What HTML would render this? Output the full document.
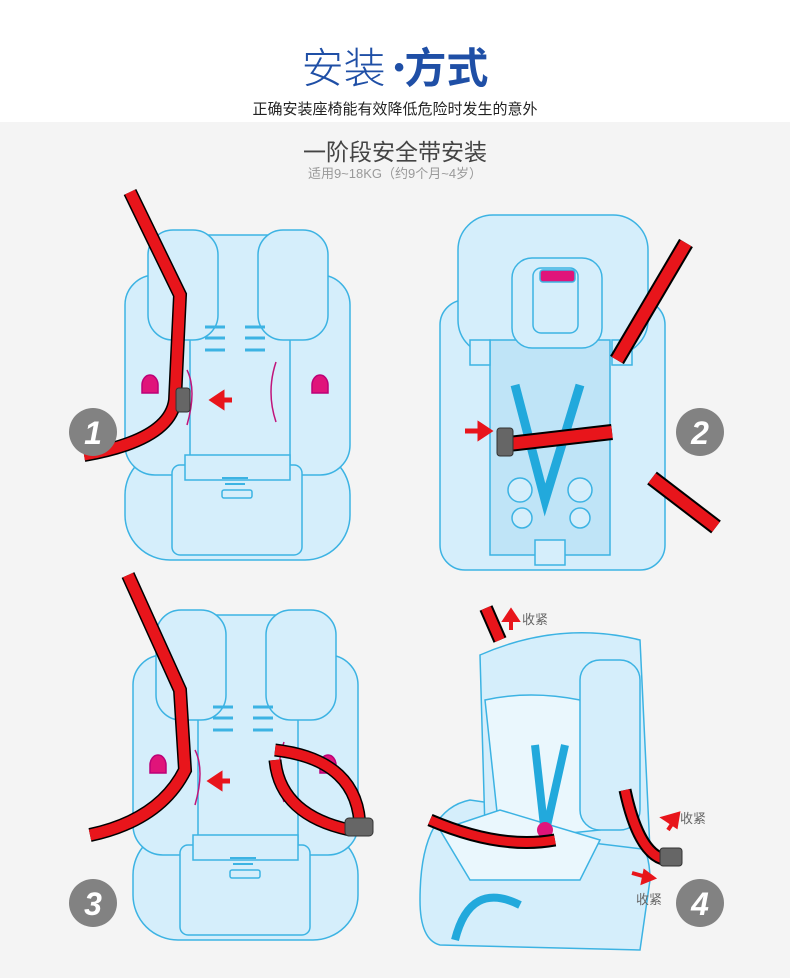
<!DOCTYPE html><html><head><meta charset="utf-8"><style>
body{margin:0;width:790px;height:978px;overflow:hidden;background:#f4f4f4;font-family:"Liberation Sans","Noto Sans CJK SC",sans-serif}
.top{position:absolute;left:0;top:0;width:790px;height:122px;background:#fff}
.t{position:absolute;left:0;width:790px;text-align:center}
</style></head><body>
<div class="top"></div>
<div class="t" style="top:40px;font-size:42px;color:#1f4fa6;line-height:56px"><span style="font-weight:300">安装</span><span style="font-weight:bold;font-size:30px;vertical-align:6px"> •</span><span style="font-weight:bold">方式</span></div>
<div class="t" style="top:98px;font-size:15px;color:#222">正确安装座椅能有效降低危险时发生的意外</div>
<div class="t" style="top:133px;font-size:23px;color:#444">一阶段安全带安装</div>
<div class="t" style="top:163px;font-size:13px;color:#999">适用9~18KG（约9个月~4岁）</div>
<svg width="790" height="978" style="position:absolute;left:0;top:0">
<defs>
<g id="front" fill="#d5eefb" stroke="#3cb3e3" stroke-width="1.5">
<rect x="125" y="450" width="225" height="110" rx="45"/>
<rect x="125" y="275" width="225" height="200" rx="30"/>
<rect x="190" y="235" width="100" height="240"/>
<rect x="148" y="230" width="70" height="110" rx="25"/>
<rect x="258" y="230" width="70" height="110" rx="25"/>
<rect x="172" y="465" width="130" height="90" rx="8"/>
<rect x="185" y="455" width="105" height="25"/>
<path d="M205 327h20M205 338h20M205 350h20M245 327h20M245 338h20M245 350h20" stroke-width="3"/>
<path d="M222 478h26M225 484h20" stroke-width="2"/>
<rect x="222" y="490" width="30" height="8" rx="2"/>
<path d="M142 385a8 10 0 0 1 16 0v8h-16z" fill="#e0147a" stroke="#b07"/>
<path d="M312 385a8 10 0 0 1 16 0v8h-16z" fill="#e0147a" stroke="#b07"/>
<path d="M187 370q10 20 0 55M276 362q-10 30 0 60" stroke="#c0147a" fill="none"/>
</g>
</defs>
<use href="#front"/>
<use href="#front" transform="translate(8,380)"/>
<path d="M130 192L180 295 175 400Q170 440 84 455" fill="none" stroke="#000" stroke-width="14"/>
<path d="M130 192L180 295 175 400Q170 440 84 455" fill="none" stroke="#e8151b" stroke-width="11"/>
<rect x="176" y="388" width="14" height="24" rx="3" fill="#666" stroke="#333"/>
<path d="M232 400h-15M222 394l-9 6 9 6z" stroke="#e8151b" stroke-width="5" fill="#e8151b"/>
<path d="M128 575L180 690 185 770Q160 820 90 835" fill="none" stroke="#000" stroke-width="14"/>
<path d="M128 575L180 690 185 770Q160 820 90 835" fill="none" stroke="#e8151b" stroke-width="11"/>
<path d="M275 750Q360 760 360 830M275 760Q280 815 350 830" fill="none" stroke="#000" stroke-width="13"/>
<path d="M275 750Q360 760 360 830M275 760Q280 815 350 830" fill="none" stroke="#e8151b" stroke-width="10"/>
<rect x="345" y="818" width="28" height="18" rx="4" fill="#666" stroke="#333"/>
<path d="M230 781h-15M220 775l-9 6 9 6z" stroke="#e8151b" stroke-width="5" fill="#e8151b"/>
<g fill="#d5eefb" stroke="#3cb3e3" stroke-width="1.5">
<rect x="440" y="300" width="225" height="270" rx="25"/>
<rect x="458" y="215" width="190" height="140" rx="35"/>
<rect x="490" y="340" width="120" height="215" fill="#bfe4f7"/>
<rect x="512" y="258" width="90" height="90" rx="20"/>
<rect x="533" y="268" width="45" height="65" rx="8"/>
<rect x="540" y="270" width="35" height="12" rx="3" fill="#e0147a"/>
<rect x="470" y="340" width="20" height="25"/><rect x="612" y="340" width="20" height="25"/>
<circle cx="520" cy="490" r="12"/><circle cx="580" cy="490" r="12"/><circle cx="522" cy="518" r="10"/><circle cx="580" cy="518" r="10"/>
<rect x="535" y="540" width="30" height="25"/>
</g>
<path d="M515 385L545 500 580 385" fill="none" stroke="#22a9dc" stroke-width="9"/>
<path d="M686 243L617 360" stroke="#000" stroke-width="16"/><path d="M686 243L617 360" stroke="#e8151b" stroke-width="12"/>
<path d="M500 445L612 432" stroke="#000" stroke-width="16"/><path d="M500 445L612 432" stroke="#e8151b" stroke-width="12"/>
<path d="M652 478L716 527" stroke="#000" stroke-width="16"/><path d="M652 478L716 527" stroke="#e8151b" stroke-width="12"/>
<rect x="497" y="428" width="16" height="28" rx="3" fill="#666" stroke="#333"/>
<path d="M465 431h20M480 425l9 6-9 6z" stroke="#e8151b" stroke-width="5" fill="#e8151b"/>
<g fill="#d5eefb" stroke="#3cb3e3" stroke-width="1.5">
<path d="M420 900Q420 810 470 800L610 820Q650 830 650 880L640 950L440 945Q420 940 420 900z"/>
<path d="M480 655Q560 620 640 640L650 850L485 830z"/>
<path d="M485 700Q530 690 580 700L600 830L500 840z" fill="#eaf7fd"/>
<rect x="580" y="660" width="60" height="170" rx="20"/>
<path d="M440 830L500 810 600 840 580 880 470 880z" fill="#eaf7fd"/>
</g>
<path d="M535 745L545 835M565 745L545 835" stroke="#22a9dc" stroke-width="8" fill="none"/>
<path d="M520 905Q470 880 455 940" stroke="#22a9dc" stroke-width="8" fill="none"/>
<circle cx="545" cy="830" r="8" fill="#e0147a"/>
<path d="M486 608L500 640" stroke="#000" stroke-width="14"/><path d="M486 608L500 640" stroke="#e8151b" stroke-width="10"/>
<path d="M625 790Q640 860 670 860M430 820Q500 850 555 840" fill="none" stroke="#000" stroke-width="13"/>
<path d="M625 790Q640 860 670 860M430 820Q500 850 555 840" fill="none" stroke="#e8151b" stroke-width="9"/>
<rect x="660" y="848" width="22" height="18" rx="3" fill="#666" stroke="#333"/>
<path d="M511 630v-14M505 620l6-9 6 9z M668 830l8-12M664 818l14-4-2 12z M632 873l18 5M645 872l8 6-10 4z" stroke="#e8151b" stroke-width="4" fill="#e8151b"/>
<g font-size="13" fill="#666"><text x="522" y="624">收紧</text><text x="680" y="823">收紧</text><text x="636" y="904">收紧</text></g>
<g fill="#828282"><circle cx="93" cy="432" r="24"/><circle cx="700" cy="432" r="24"/><circle cx="93" cy="903" r="24"/><circle cx="700" cy="903" r="24"/></g>
<g fill="#fff" font-size="32" font-weight="bold" font-style="italic" text-anchor="middle"><text x="93" y="444">1</text><text x="700" y="444">2</text><text x="93" y="915">3</text><text x="700" y="915">4</text></g>
</svg>
</body></html>
